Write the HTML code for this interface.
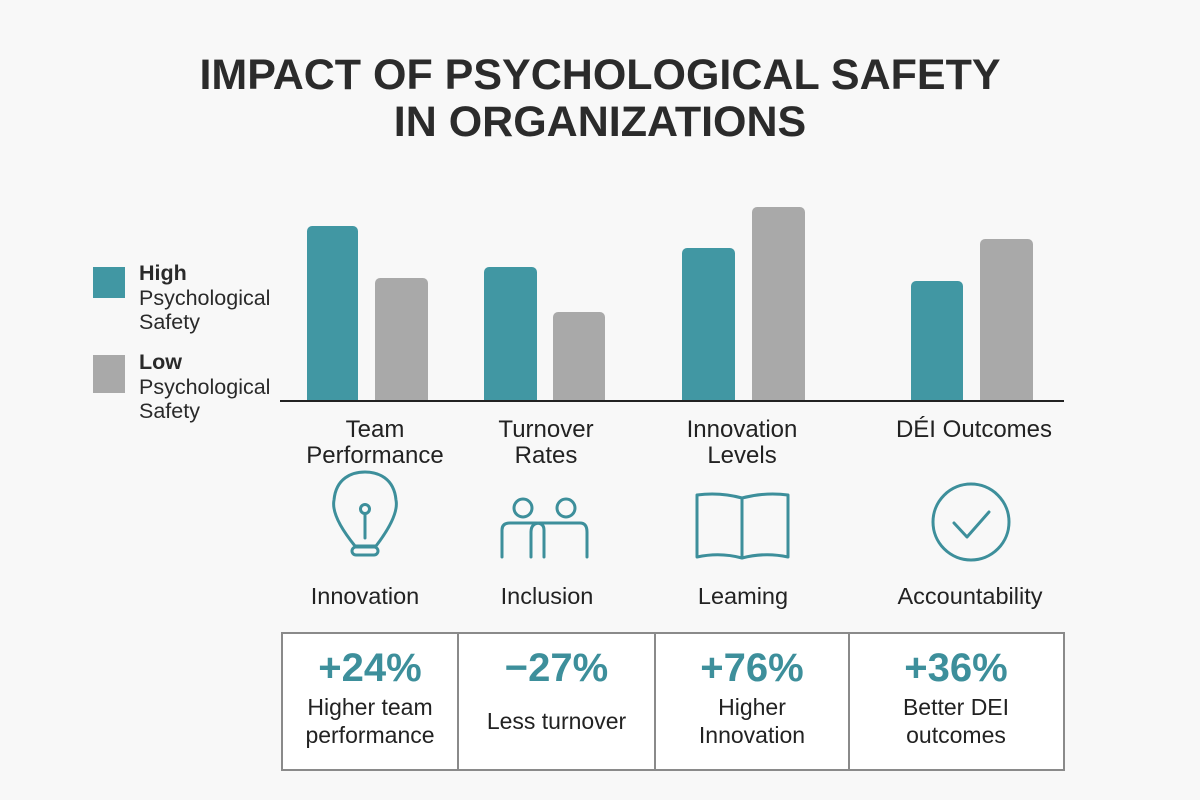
<!DOCTYPE html>
<html><head><meta charset="utf-8"><style>
body{margin:0;width:1200px;height:800px;background:#f8f8f8;font-family:"Liberation Sans",sans-serif;position:relative;overflow:hidden}
.a{position:absolute}
.t{left:0;width:1200px;text-align:center;font-weight:bold;font-size:43px;color:#2b2b2b;line-height:47px}
.bar{position:absolute;border-radius:5px 5px 0 0}
.h{background:#4197a3}.l{background:#a9a9a9}
.lg{font-size:21.5px;color:#2a2a2a;line-height:24.5px}
.cat{position:absolute;text-align:center;font-size:24px;color:#222;line-height:26px;width:200px}
.ic{position:absolute;text-align:center;font-size:23.5px;color:#222;width:200px}
.cell{position:absolute;top:633px;height:136px;text-align:center;box-sizing:border-box}
.pct{color:#3d8f9b;font-weight:bold;font-size:40px;margin-top:14px;line-height:42px}
.d{font-size:23px;color:#222;line-height:28px}
</style></head><body>
<div class="a t" style="top:52px">IMPACT OF PSYCHOLOGICAL SAFETY</div>
<div class="a t" style="top:99px">IN ORGANIZATIONS</div>

<div class="a h" style="left:93px;top:267px;width:32px;height:31px"></div>
<div class="a l" style="left:93px;top:355px;width:32px;height:38px"></div>
<div class="a lg" style="left:139px;top:261px"><b>High</b><br>Psychological<br>Safety</div>
<div class="a lg" style="left:139px;top:350px"><b>Low</b><br>Psychological<br>Safety</div>

<div class="bar h" style="left:307px;top:226px;width:51px;height:175px"></div>
<div class="bar l" style="left:375px;top:278px;width:53px;height:123px"></div>
<div class="bar h" style="left:484px;top:267px;width:53px;height:134px"></div>
<div class="bar l" style="left:553px;top:312px;width:52px;height:89px"></div>
<div class="bar h" style="left:682px;top:248px;width:53px;height:153px"></div>
<div class="bar l" style="left:752px;top:207px;width:53px;height:194px"></div>
<div class="bar h" style="left:911px;top:281px;width:52px;height:120px"></div>
<div class="bar l" style="left:980px;top:239px;width:53px;height:162px"></div>
<div class="a" style="left:280px;top:400px;width:784px;height:2px;background:#222"></div>

<div class="cat" style="left:275px;top:417px">Team<br>Performance</div>
<div class="cat" style="left:446px;top:417px">Turnover<br>Rates</div>
<div class="cat" style="left:642px;top:417px">Innovation<br>Levels</div>
<div class="cat" style="left:874px;top:417px">DÉI Outcomes</div>

<svg class="a" style="left:0;top:0" width="1200" height="800" fill="none" stroke="#3d8f9b" stroke-width="3" stroke-linecap="round" stroke-linejoin="round">
 <path d="M355 546 C338 525 332 510 334 500 C336 478 352 472 365 472 C378 472 394 478 396 500 C398 510 392 525 376 546 Z"/>
 <circle cx="365" cy="509" r="4.5"/><path d="M365 514 V538"/>
 <rect x="352" y="547" width="26" height="8" rx="4"/>
 <circle cx="523" cy="508" r="9"/><circle cx="566" cy="508" r="9"/>
 <path d="M502 557 V530 Q502 523 510 523 H536 Q544 523 544 530 V557"/>
 <path d="M531 557 V532 Q531 523 540 523 H580 Q587 523 587 532 V557"/>
 <path d="M697 495 Q720 492 742 498 Q765 492 788 495 V557 Q765 552 742 558 Q720 552 697 557 Z"/><path d="M742 498 V558"/>
 <circle cx="971" cy="522" r="38"/><path d="M954 523 L967 537 L989 512"/>
</svg>

<div class="ic" style="left:265px;top:583px">Innovation</div>
<div class="ic" style="left:447px;top:583px">Inclusion</div>
<div class="ic" style="left:643px;top:583px">Leaming</div>
<div class="ic" style="left:870px;top:583px">Accountability</div>

<div class="a" style="left:281px;top:632px;width:780px;height:135px;border:2px solid #8a8a8a;background:#fff"></div>
<div class="a" style="left:457px;top:633px;width:2px;height:136px;background:#8a8a8a"></div>
<div class="a" style="left:654px;top:633px;width:2px;height:136px;background:#8a8a8a"></div>
<div class="a" style="left:848px;top:633px;width:2px;height:136px;background:#8a8a8a"></div>
<div class="cell" style="left:283px;width:174px"><div class="pct">+24%</div><div class="d" style="margin-top:4px">Higher team<br>performance</div></div>
<div class="cell" style="left:459px;width:195px"><div class="pct">−27%</div><div class="d" style="margin-top:18px">Less turnover</div></div>
<div class="cell" style="left:656px;width:192px"><div class="pct">+76%</div><div class="d" style="margin-top:4px">Higher<br>Innovation</div></div>
<div class="cell" style="left:850px;width:212px"><div class="pct">+36%</div><div class="d" style="margin-top:4px">Better DEI<br>outcomes</div></div>
</body></html>
